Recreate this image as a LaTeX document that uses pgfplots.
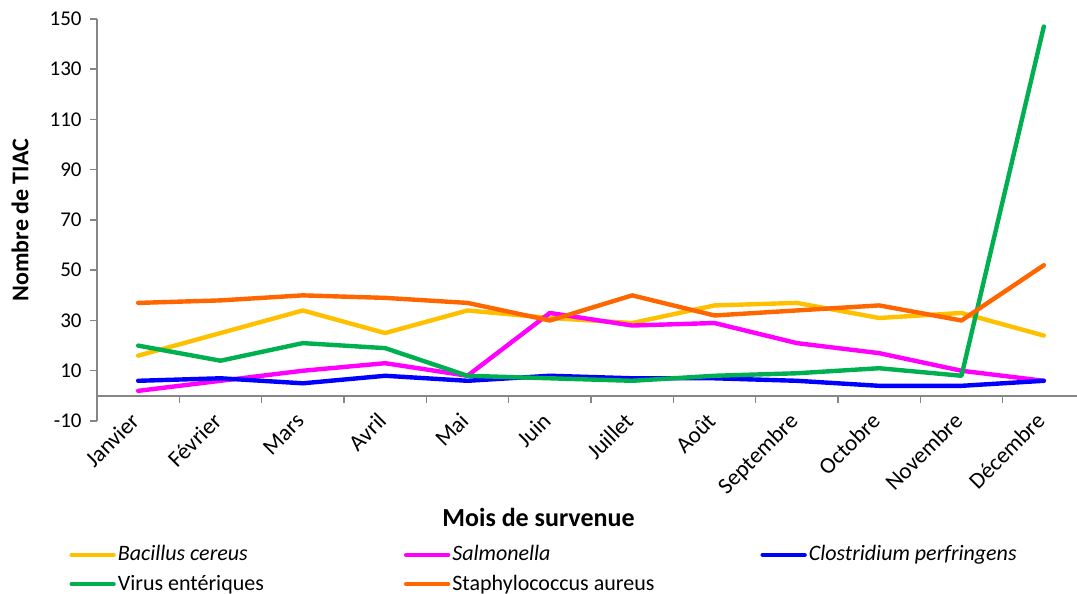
\documentclass[border=0pt]{standalone}
\usepackage{fontspec}
\setmainfont{Carlito}
\usepackage{pgfplots}
\pgfplotsset{compat=1.18}
\definecolor{cYel}{HTML}{FFC000}
\definecolor{cMag}{HTML}{FF00FF}
\definecolor{cBlu}{HTML}{0000FF}
\definecolor{cGrn}{HTML}{00B050}
\definecolor{cOra}{HTML}{FF6600}
\definecolor{axgray}{HTML}{868686}
\begin{document}
\begin{tikzpicture}
\begin{axis}[
  at={(48.5pt,86.5pt)}, anchor=south west,
  scale only axis, width=494pt, height=201pt,
  xmin=-0.5, xmax=11.5, ymin=-10, ymax=150,
  axis x line*=bottom, axis y line*=left,
  x axis line style={draw=none},
  y axis line style={axgray, line width=0.75pt},
  xtick={0,...,11},
  xticklabels={Janvier,Février,Mars,Avril,Mai,Juin,Juillet,Août,Septembre,Octobre,Novembre,Décembre},
  xtick style={draw=none},
  ytick={-10,10,30,50,70,90,110,130,150},
  ytick style={axgray, line width=0.75pt},
  xtick align=inside, ytick align=outside, major tick length=3.5pt,
  /pgf/number format/assume math mode=true,
  yticklabel style={font=\fontsize{10.5}{12}\selectfont, anchor=east, inner sep=0pt, xshift=-4pt},
  xticklabel style={font=\fontsize{11.5}{13}\selectfont, rotate=45, anchor=base east, inner sep=0pt, xshift=0.5pt, yshift=-1.4pt},
  clip=false,
  legend columns=3,
  legend cell align=left,
  legend style={draw=none, fill=none, anchor=west, at={(-0.0283,-0.3694)},
    font=\fontsize{11}{13}\selectfont, inner sep=0pt, row sep=3.5pt,
    nodes={inner sep=1pt},
    /tikz/column 2/.style={column sep=69pt},
    /tikz/column 4/.style={column sep=52pt}},
  legend image code/.code={\draw[#1, line cap=round] (0pt,0pt) -- (21pt,0pt);},
  every axis plot/.append style={line width=2.2pt, line join=round, line cap=round},
]
\addplot[cYel] coordinates {(0,16)(1,25)(2,34)(3,25)(4,34)(5,31)(6,29)(7,36)(8,37)(9,31)(10,33)(11,24)};
\addlegendentry{\textit{Bacillus cereus}}
\addplot[cMag] coordinates {(0,2)(1,6)(2,10)(3,13)(4,8)(5,33)(6,28)(7,29)(8,21)(9,17)(10,10)(11,6)};
\addlegendentry{\textit{Salmonella}}
\addplot[cBlu] coordinates {(0,6)(1,7)(2,5)(3,8)(4,6)(5,8)(6,7)(7,7)(8,6)(9,4)(10,4)(11,6)};
\addlegendentry{\textit{Clostridium perfringens}}
\addplot[cGrn] coordinates {(0,20)(1,14)(2,21)(3,19)(4,8)(5,7)(6,6)(7,8)(8,9)(9,11)(10,8)(11,147)};
\addlegendentry{Virus entériques}
\addplot[cOra] coordinates {(0,37)(1,38)(2,40)(3,39)(4,37)(5,30)(6,40)(7,32)(8,34)(9,36)(10,30)(11,52)};
\addlegendentry{Staphylococcus aureus}
\draw[axgray, line width=0.75pt] (axis cs:-0.5,0) -- (axis cs:11.5,0);
\pgfplotsinvokeforeach{0.5,1.5,2.5,3.5,4.5,5.5,6.5,7.5,8.5,9.5,10.5}{
  \draw[axgray, line width=0.75pt] (axis cs:#1,0) -- ++(0pt,-3.5pt);
}
\end{axis}
\node[rotate=90, font=\bfseries\fontsize{12}{14}\selectfont] at (10pt,187pt) {Nombre de TIAC};
\node[font=\bfseries\fontsize{13}{15}\selectfont] at (269.25pt,38.5pt) {Mois de survenue};
\pgfresetboundingbox
\path (0pt,0pt) rectangle (538.5pt,297pt);
\end{tikzpicture}
\end{document}
